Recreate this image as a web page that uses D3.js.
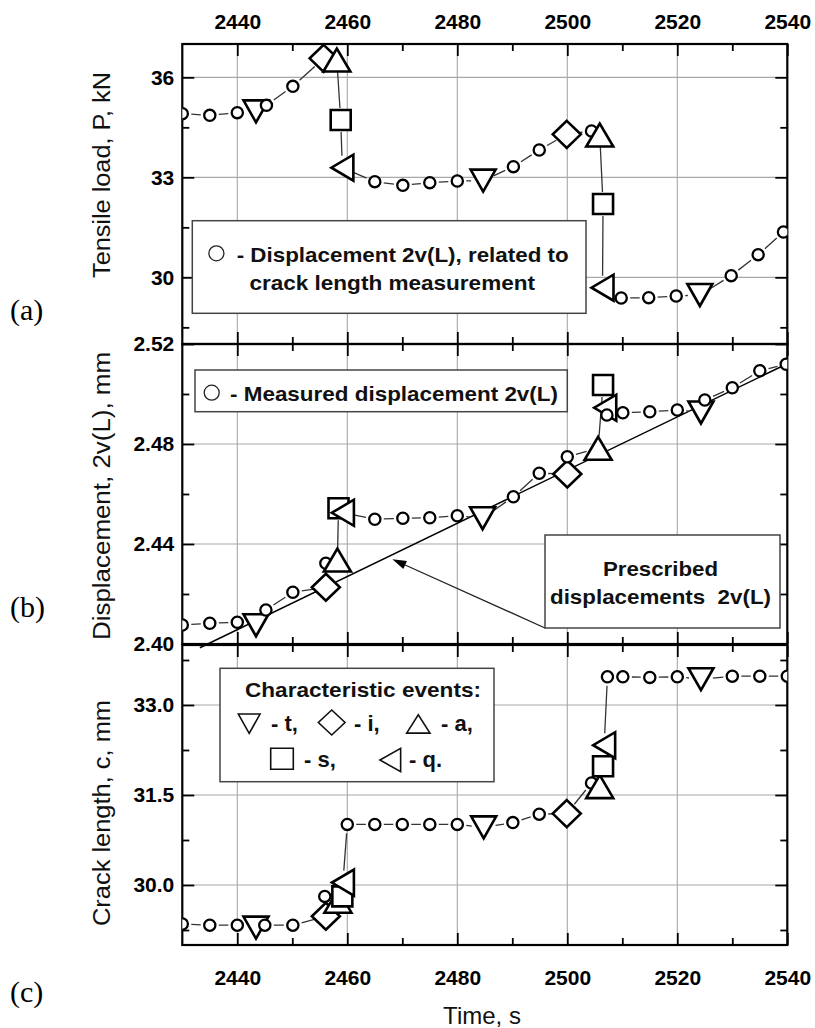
<!DOCTYPE html>
<html>
<head>
<meta charset="utf-8">
<script src="https://cdn.jsdelivr.net/npm/d3@7"></script>
<style>
  body { margin: 0; background: #fff; }
  svg { display: block; }
  svg text { font-family: "Liberation Sans", Arial, sans-serif; white-space: pre; }
</style>
</head>
<body>
<svg id="chart" width="815" height="1028"></svg>
<script>
// ---------- time axis (shared by the three panels) ----------
const timeDomain = [2430, 2540];
const timeTicks = [2440, 2460, 2480, 2500, 2520, 2540];
const timeMinorTicks = [2450, 2470, 2490, 2510, 2530];
const timeGrid = [2440, 2460, 2480, 2500, 2520];

// Marker codes: o = measurement, t = ▽, i = ◇, a = △, s = □, q = ◁

// ---------- (a) tensile load P, kN ----------
const loadDomain = [28, 37];
const loadTicks = [30, 33, 36];
const loadMinorTicks = [28.5, 31.5, 34.5];
const loadTime  = [2430, 2435, 2440, 2443.4, 2445.3, 2450.1, 2455.7, 2458.1, 2458.8, 2459.1,
                   2465, 2470.1, 2475, 2480, 2484.7, 2490.2, 2494.9, 2499.9, 2504.4, 2505.9,
                   2506.5, 2506.4, 2509.8, 2514.8, 2519.8, 2524.1, 2529.8, 2534.7, 2539.3];
const loadValue = [34.91, 34.86, 34.94, 34.98, 35.16, 35.73, 36.57, 36.52, 34.72, 33.29,
                   32.87, 32.76, 32.84, 32.89, 32.9, 33.32, 33.82, 34.29, 34.39, 34.27,
                   32.2, 29.69, 29.38, 29.39, 29.44, 29.47, 30.05, 30.68, 31.36];
const loadMark  = ['o','o','o','t','o','o','i','a','s','q',
                   'o','o','o','o','t','o','o','i','o','a',
                   's','q','o','o','o','t','o','o','o'];

// ---------- (b) displacement 2v(L), mm ----------
const dispDomain = [2.40, 2.52];
const dispTicks = [2.40, 2.44, 2.48, 2.52];
const dispMinorTicks = [2.42, 2.46, 2.50];
const dispTime  = [2430, 2435, 2440, 2443.4, 2445.2, 2450.1, 2456.1, 2456.1, 2458.2, 2458.4,
                   2459.2, 2465, 2470.1, 2475, 2480, 2484.6, 2490.2, 2494.9, 2500, 2500,
                   2505.6, 2506.5, 2506.9, 2507.2, 2510.1, 2515, 2520, 2524.3, 2525, 2530,
                   2535, 2539.8];
const dispValue = [2.4076, 2.4083, 2.4087, 2.4075, 2.4136, 2.4207, 2.4227, 2.4323, 2.4336, 2.4543,
                   2.4525, 2.4499, 2.4503, 2.4505, 2.4513, 2.4503, 2.4589, 2.4683, 2.468, 2.4749,
                   2.4783, 2.5036, 2.4945, 2.4916, 2.4925, 2.4929, 2.4936, 2.4926, 2.4976, 2.5025,
                   2.5093, 2.5119];
const dispMark  = ['o','o','o','t','o','o','i','o','a','s',
                   'q','o','o','o','o','t','o','o','i','o',
                   'a','s','q','o','o','o','o','t','o','o',
                   'o','o'];
// prescribed displacement line (end points)
const prescribedTime  = [2433.2, 2539.8];
const prescribedValue = [2.3985, 2.5119];
// arrow tip pointing at the prescribed line
const arrowTipTime = 2468.2;
const arrowTipValue = 2.4339;

// ---------- (c) crack length c, mm ----------
const crackDomain = [29, 34];
const crackTicks = [30, 31.5, 33];
const crackMinorTicks = [29.25, 30.75, 32.25, 33.75];
const crackTime  = [2430, 2435, 2440, 2443.4, 2445, 2450.1, 2456.1, 2455.9, 2458.3, 2459.1,
                    2459.2, 2460, 2465, 2470, 2475, 2480, 2484.8, 2490.1, 2494.9, 2499.9,
                    2504.4, 2505.9, 2506.5, 2506.7, 2507.3, 2510.1, 2515, 2520, 2524.3, 2530,
                    2535, 2540];
const crackValue = [29.35, 29.33, 29.33, 29.29, 29.33, 29.33, 29.48, 29.81, 29.73, 29.81,
                    30.04, 31.01, 31.01, 31.01, 31.01, 31.01, 30.96, 31.04, 31.18, 31.19,
                    31.7, 31.64, 31.98, 32.33, 33.47, 33.47, 33.46, 33.47, 33.43, 33.48,
                    33.48, 33.48];
const crackMark  = ['o','o','o','t','o','o','i','o','a','s',
                    'q','o','o','o','o','o','t','o','o','i',
                    'o','a','s','q','o','o','o','o','t','o',
                    'o','o'];

// ---------- drawing ----------
const SANS = '"Liberation Sans", Arial, sans-serif';
const SERIF = '"Liberation Serif", "Times New Roman", serif';
const svg = d3.select('#chart');
const x = d3.scaleLinear().domain(timeDomain).range([182.3, 787.3]);
const plotLeft = x.range()[0], plotRight = x.range()[1];

// event marker outlines, centred on their bounding box: [width, height]
const markerSize = { t: [25, 22], a: [27, 23], i: [28, 27], s: [20, 20], q: [22, 26] };
function markerPath(m, w, h) {
  const a = w / 2, b = h / 2;
  switch (m) {
    case 't': return `M${-a},${-b}L${a},${-b}L0,${b}Z`;
    case 'a': return `M${-a},${b}L${a},${b}L0,${-b}Z`;
    case 'i': return `M0,${-b}L${a},0L0,${b}L${-a},0Z`;
    case 's': return `M${-a},${-b}L${a},${-b}L${a},${b}L${-a},${b}Z`;
    case 'q': return `M${a},${-b}L${a},${b}L${-a},0Z`;
  }
}

const panels = [
  { key: 'a', time: loadTime, value: loadValue, mark: loadMark, domain: loadDomain, range: [344, 44],
    ticks: loadTicks, minor: loadMinorTicks, fmt: d3.format('d'),
    title: 'Tensile load, P, kN', titleY: 175, titleLen: 206, letter: '(a)', letterY: 320 },
  { key: 'b', time: dispTime, value: dispValue, mark: dispMark, domain: dispDomain, range: [644, 344],
    ticks: dispTicks, minor: dispMinorTicks, fmt: d3.format('.2f'),
    title: 'Displacement, 2v(L), mm', titleY: 496, titleLen: 288, letter: '(b)', letterY: 617 },
  { key: 'c', time: crackTime, value: crackValue, mark: crackMark, domain: crackDomain, range: [945, 645],
    ticks: crackTicks, minor: crackMinorTicks, fmt: d3.format('.1f'),
    title: 'Crack length, c, mm', titleY: 813, titleLen: 226, letter: '(c)', letterY: 1002 }
];

const defs = svg.append('defs');

function styleAxis(sel) {
  sel.attr('font-family', SANS).attr('font-size', 21);
  sel.select('.domain').remove();
  sel.selectAll('line').attr('stroke', '#000').attr('stroke-width', 1.8);
  sel.selectAll('text')
    .attr('font-family', SANS).attr('font-size', 21).attr('font-weight', 700)
    .style('font-family', SANS).style('font-size', '21px').style('font-weight', '700')
    .attr('fill', '#000');
}

panels.forEach((p, idx) => {
  const y = d3.scaleLinear().domain(p.domain).range(p.range);
  p.y = y;
  const top = p.range[1], bottom = p.range[0];
  const g = svg.append('g').attr('class', 'panel-' + p.key);

  // clip region for the measurement line and circles
  defs.append('clipPath').attr('id', 'clip-' + p.key)
    .append('rect').attr('x', plotLeft).attr('y', top)
    .attr('width', plotRight - plotLeft).attr('height', bottom - top);

  // grid
  const grid = g.append('g').attr('stroke', '#a8a8a8').attr('stroke-width', 1.1);
  grid.selectAll('line.v').data(timeGrid).join('line').attr('class', 'v')
    .attr('x1', d => x(d)).attr('x2', d => x(d)).attr('y1', top).attr('y2', bottom);
  grid.selectAll('line.h').data(p.ticks.filter(v => v > p.domain[0] && v < p.domain[1])).join('line').attr('class', 'h')
    .attr('x1', plotLeft).attr('x2', plotRight).attr('y1', d => y(d)).attr('y2', d => y(d));

  // axes: ticks point inward on all four sides
  const axes = g.append('g');
  axes.append('g').attr('transform', `translate(${plotLeft},0)`)
    .call(d3.axisLeft(y).tickValues(p.minor).tickSize(-7).tickFormat('')).call(styleAxis);
  axes.append('g').attr('transform', `translate(${plotLeft},0)`)
    .call(d3.axisLeft(y).tickValues(p.ticks).tickSize(-12).tickPadding(8).tickFormat(p.fmt)).call(styleAxis);
  axes.append('g').attr('transform', `translate(${plotRight},0)`)
    .call(d3.axisRight(y).tickValues(p.minor).tickSize(-7).tickFormat('')).call(styleAxis);
  axes.append('g').attr('transform', `translate(${plotRight},0)`)
    .call(d3.axisRight(y).tickValues(p.ticks).tickSize(-12).tickFormat('')).call(styleAxis);

  axes.append('g').attr('transform', `translate(0,${top})`)
    .call(d3.axisTop(x).tickValues(timeMinorTicks).tickSize(-7).tickFormat('')).call(styleAxis);
  axes.append('g').attr('transform', `translate(0,${top})`)
    .call(d3.axisTop(x).tickValues(timeTicks).tickSize(-12).tickPadding(15.5)
      .tickFormat(idx === 0 ? d3.format('d') : '')).call(styleAxis);
  axes.append('g').attr('transform', `translate(0,${bottom})`)
    .call(d3.axisBottom(x).tickValues(timeMinorTicks).tickSize(-7).tickFormat('')).call(styleAxis);
  axes.append('g').attr('transform', `translate(0,${bottom})`)
    .call(d3.axisBottom(x).tickValues(timeTicks).tickSize(-12).tickPadding(25)
      .tickFormat(idx === panels.length - 1 ? d3.format('d') : '')).call(styleAxis);

  // frame
  g.append('rect').attr('x', plotLeft).attr('y', top)
    .attr('width', plotRight - plotLeft).attr('height', bottom - top)
    .attr('fill', 'none').attr('stroke', '#000').attr('stroke-width', 2.2);

  // axis title (rotated)
  g.append('text')
    .attr('transform', `translate(110,${p.titleY}) rotate(-90)`)
    .attr('text-anchor', 'middle')
    .attr('textLength', p.titleLen).attr('lengthAdjust', 'spacingAndGlyphs')
    .style('font-size', '23px').attr('fill', '#111')
    .text(p.title);

  // panel letter
  svg.append('text').attr('x', 10).attr('y', p.letterY)
    .style('font-family', SERIF)
    .style('font-size', '30px').attr('fill', '#000')
    .text(p.letter);
});

// ---------- measurement series ----------
function drawSeries(p) {
  const pts = p.time.map((t, i) => ({ x: x(t), y: p.y(p.value[i]), m: p.mark[i] }));
  const g = svg.append('g');

  // connecting line, broken around each symbol
  let d = '';
  for (let i = 0; i < pts.length - 1; i++) {
    const a = pts[i], b = pts[i + 1];
    const dx = b.x - a.x, dy = b.y - a.y, len = Math.hypot(dx, dy);
    const ga = a.m === 'o' ? 9 : 12, gb = b.m === 'o' ? 9 : 12;
    if (len <= ga + gb + 1) continue;
    const ux = dx / len, uy = dy / len;
    d += `M${a.x + ux * ga},${a.y + uy * ga}L${b.x - ux * gb},${b.y - uy * gb}`;
  }
  g.append('path').attr('d', d).attr('fill', 'none')
    .attr('stroke', '#333').attr('stroke-width', 1.3)
    .attr('clip-path', `url(#clip-${p.key})`);

  // symbols in time order
  pts.forEach(pt => {
    if (pt.m === 'o') {
      g.append('circle').attr('cx', pt.x).attr('cy', pt.y).attr('r', 5.6)
        .attr('fill', '#fff').attr('stroke', '#000').attr('stroke-width', 2.3)
        .attr('clip-path', `url(#clip-${p.key})`);
    } else {
      const [w, h] = markerSize[pt.m];
      g.append('path').attr('transform', `translate(${pt.x},${pt.y})`)
        .attr('d', markerPath(pt.m, w, h))
        .attr('fill', '#fff').attr('stroke', '#000').attr('stroke-width', 2.6)
        .attr('stroke-linejoin', 'miter');
    }
  });
}

// prescribed displacement line (panel b), drawn beneath the symbols
(function () {
  const p = panels[1];
  const line = d3.line().x(d => x(d[0])).y(d => p.y(d[1]));
  svg.append('path')
    .attr('d', line(prescribedTime.map((t, i) => [t, prescribedValue[i]])))
    .attr('fill', 'none').attr('stroke', '#000').attr('stroke-width', 1.5);
})();

panels.forEach(drawSeries);

// ---------- legends and annotations ----------
function box(x0, y0, w, h) {
  svg.append('rect').attr('x', x0).attr('y', y0).attr('width', w).attr('height', h)
    .attr('fill', '#fff').attr('stroke', '#444').attr('stroke-width', 1.5);
}
function label(str, x0, y0, opts = {}) {
  const t = svg.append('text').attr('x', x0).attr('y', y0)
    .style('font-size', opts.size || '21px').style('font-weight', '700')
    .attr('text-anchor', opts.anchor || 'start').attr('fill', '#111')
    .text(str);
  if (opts.len) t.attr('textLength', opts.len).attr('lengthAdjust', 'spacingAndGlyphs');
  return t;
}
function legendCircle(cx, cy) {
  svg.append('circle').attr('cx', cx).attr('cy', cy).attr('r', 7.5)
    .attr('fill', '#fff').attr('stroke', '#222').attr('stroke-width', 1.3);
}
function legendMarker(m, cx, cy, w, h) {
  svg.append('path').attr('transform', `translate(${cx},${cy})`)
    .attr('d', markerPath(m, w, h))
    .attr('fill', '#fff').attr('stroke', '#111').attr('stroke-width', 1.6);
}

// (a) legend
box(192.3, 220.7, 393.7, 92.6);
legendCircle(216.4, 253.3);
label('- Displacement 2v(L), related to', 236.7, 261.5, { len: 332 });
label('crack length measurement', 249.4, 290, { len: 285.6 });

// (b) legend
box(195, 370, 372.3, 41.7);
legendCircle(211.7, 392.7);
label('- Measured displacement 2v(L)', 230, 400.5, { len: 328 });

// (b) prescribed-line callout
const calloutBox = { x: 545, y: 535, w: 235, h: 93 };
(function () {
  const p = panels[1];
  const tipX = x(arrowTipTime), tipY = p.y(arrowTipValue);
  const tailX = calloutBox.x, tailY = calloutBox.y + calloutBox.h;
  const dx = tipX - tailX, dy = tipY - tailY, len = Math.hypot(dx, dy);
  const ux = dx / len, uy = dy / len;
  const headL = 14, headW = 4.5;
  const bx = tipX - ux * headL, by = tipY - uy * headL;
  svg.append('line').attr('x1', tailX).attr('y1', tailY).attr('x2', bx).attr('y2', by)
    .attr('stroke', '#222').attr('stroke-width', 1.3);
  svg.append('path')
    .attr('d', `M${tipX},${tipY}L${bx - uy * headW},${by + ux * headW}L${bx + uy * headW},${by - ux * headW}Z`)
    .attr('fill', '#000');
})();
box(calloutBox.x, calloutBox.y, calloutBox.w, calloutBox.h);
label('Prescribed', 603, 576, { len: 115 });
label('displacements  2v(L)', 550, 604, { len: 221 });

// (c) legend of characteristic events
box(220, 668.3, 274, 113.4);
label('Characteristic events:', 245, 697, { len: 236 });
legendMarker('t', 249.2, 723.7, 21.7, 19.3);
label('- t,', 271, 731, { size: '22px' });
legendMarker('i', 331.7, 722.5, 26.7, 25);
label('- i,', 354, 731, { size: '22px' });
legendMarker('a', 418.3, 724, 23.3, 18.3);
label('- a,', 441, 731, { size: '22px' });
legendMarker('s', 282, 758.8, 22.6, 21);
label('- s,', 304, 767, { size: '22px' });
legendMarker('q', 390.3, 760, 20.7, 23.3);
label('- q.', 409, 767, { size: '22px' });

// time axis title
svg.append('text').attr('x', 482).attr('y', 1024).attr('text-anchor', 'middle')
  .style('font-size', '24px').attr('fill', '#111').text('Time, s');
</script>
</body>
</html>
